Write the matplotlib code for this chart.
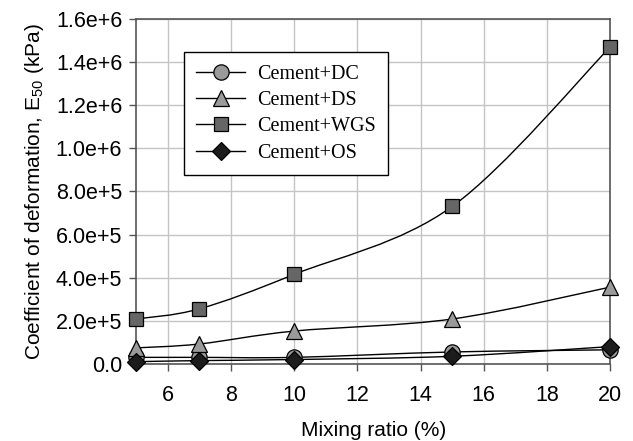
import matplotlib
matplotlib.use("Agg")
import matplotlib.pyplot as plt
import numpy as np
from matplotlib.lines import Line2D
from matplotlib.patches import PathPatch
from matplotlib.path import Path
from matplotlib.ticker import FuncFormatter, MultipleLocator

# Data
mixing_ratio = [5, 7, 10, 15, 20]
e50_dc = [3.0e4, 3.0e4, 3.0e4, 5.5e4, 6.5e4]
e50_ds = [7.4e4, 9.2e4, 1.52e5, 2.08e5, 3.56e5]
e50_wgs = [2.08e5, 2.55e5, 4.15e5, 7.3e5, 1.47e6]
e50_os = [1.0e4, 1.5e4, 2.0e4, 3.5e4, 8.0e4]
labels = ["Cement+DC", "Cement+DS", "Cement+WGS", "Cement+OS"]

plt.rcParams["font.family"] = ["Liberation Sans", "DejaVu Sans"]


def smooth_path(x, y):
    # Catmull-Rom style Bezier through the points (like a spreadsheet smoothed line)
    pts = np.column_stack([x, y]).astype(float)
    n = len(pts)
    verts = [pts[0]]
    codes = [Path.MOVETO]
    for i in range(n - 1):
        p0 = pts[max(i - 1, 0)]
        p1 = pts[i]
        p2 = pts[i + 1]
        p3 = pts[min(i + 2, n - 1)]
        verts += [p1 + (p2 - p0) / 6, p2 - (p3 - p1) / 6, p2]
        codes += [Path.CURVE4] * 3
    return Path(verts, codes)


fig = plt.figure(figsize=(6.33, 4.41), dpi=100)
ax = fig.add_axes([0.215, 0.175, 0.749, 0.782])

series = [
    (e50_dc, "o", "#9a9a9a", 11),
    (e50_ds, "^", "#9a9a9a", 12),
    (e50_wgs, "s", "#666666", 10.5),
    (e50_os, "D", "#1c1c1c", 9),
]

handles = []
for (vals, mk, fc, ms), lab in zip(series, labels):
    ax.add_patch(PathPatch(smooth_path(mixing_ratio, vals), fill=False,
                           ec="black", lw=1.0, zorder=3))
    ax.plot(mixing_ratio, vals, ls="none", marker=mk, ms=ms, mfc=fc,
            mec="black", mew=0.9, zorder=4, clip_on=False)
    handles.append(Line2D([], [], color="black", lw=1.0, marker=mk, ms=ms,
                          mfc=fc, mec="black", mew=0.9, label=lab))

ax.set_xlim(5, 20)
ax.set_ylim(0, 1.6e6)
ax.set_xticks([6, 8, 10, 12, 14, 16, 18, 20])
ax.yaxis.set_major_locator(MultipleLocator(2e5))


def yfmt(v, pos):
    if abs(v) < 1:
        return "0.0"
    if v < 0:
        return ""
    exp = int(np.floor(np.log10(v)))
    return f"{v / 10 ** exp:.1f}e+{exp}"


ax.yaxis.set_major_formatter(FuncFormatter(yfmt))
ax.grid(True, color="#c4c4c4", lw=1.0)
ax.set_axisbelow(True)
for sp in ax.spines.values():
    sp.set_color("#555555")
    sp.set_linewidth(1.2)
ax.tick_params(direction="out", length=5, width=1, color="#555555",
               labelsize=15.5)
ax.tick_params(axis="y", pad=5)
ax.tick_params(axis="x", pad=10)

ax.set_xlabel("Mixing ratio (%)", fontsize=15, labelpad=11)
ax.set_ylabel("Coefficient of deformation, E$_{\\mathregular{50}}$ (kPa)",
              fontsize=15, labelpad=7)

leg = ax.legend(handles=handles, loc="upper left",
                bbox_to_anchor=(0.101, 0.904), borderaxespad=0,
                prop={"family": "Liberation Serif", "size": 14.5},
                frameon=True, fancybox=False, framealpha=1,
                edgecolor="black", handlelength=2.4, handletextpad=0.6,
                labelspacing=0.36, borderpad=0.62)
leg.get_frame().set_linewidth(1.0)

fig.savefig("out.png", dpi=100)
